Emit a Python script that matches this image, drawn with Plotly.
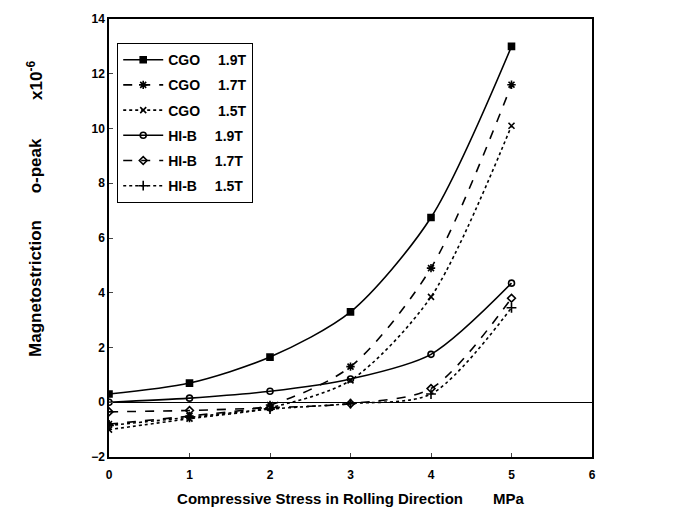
import plotly.graph_objects as go

stress = [0, 1, 2, 3, 4, 5]
cgo_19 = [0.3, 0.7, 1.65, 3.3, 6.75, 13.0]
cgo_17 = [-0.8, -0.5, -0.1, 1.3, 4.9, 11.6]
cgo_15 = [-1.0, -0.6, -0.2, 0.8, 3.85, 10.1]
hib_19 = [0.0, 0.15, 0.4, 0.85, 1.75, 4.35]
hib_17 = [-0.35, -0.3, -0.2, -0.05, 0.5, 3.8]
hib_15 = [-0.85, -0.55, -0.25, -0.05, 0.3, 3.45]

series = [
    ("CGO\u2003 1.9T", cgo_19, "solid", "square", 6),
    ("CGO\u2003 1.7T", cgo_17, "dash", "asterisk-open", 7),
    ("CGO\u2003 1.5T", cgo_15, "dot", "x-thin-open", 6),
    ("HI-B\u2003 1.9T", hib_19, "solid", "circle-open", 6),
    ("HI-B\u2003 1.7T", hib_17, "dash", "diamond-open", 6),
    ("HI-B\u2003 1.5T", hib_15, "dot", "cross-thin-open", 7),
]

fig = go.Figure()
for i, (name, ys, dash, sym, size) in enumerate(series):
    fig.add_trace(go.Scatter(
        x=stress, y=ys, name=name, mode="lines+markers", legendgroup=f"g{i}",
        line=dict(color="black", width=1.6, dash=dash, shape="spline", smoothing=0.8),
        marker=dict(symbol=sym, size=size, color="black",
                    line=dict(color="black", width=1.6)),
    ))

font_family = "Liberation Sans, Arial, sans-serif"
ytitle_parts = [("Magnetostriction", 0.385), ("o-peak", 0.665), ("x10<sup>-6</sup>", 0.86)]
for txt, ypos in ytitle_parts:
    fig.add_annotation(
        text=txt, xref="paper", yref="paper", x=-0.152, y=ypos,
        xanchor="center", yanchor="middle", textangle=-90, showarrow=False,
        font=dict(size=17, family=font_family, weight="bold"),
    )
fig.update_layout(
    width=675, height=519,
    margin=dict(l=109, r=83, t=15, b=62),
    paper_bgcolor="white", plot_bgcolor="white",
    font=dict(family=font_family, color="black", size=13),
    showlegend=True,
    legend=dict(x=0.017, y=0.945, xanchor="left", yanchor="top",
                bordercolor="black", borderwidth=1, bgcolor="white",
                font=dict(size=14, family=font_family, weight="bold"),
                tracegroupgap=4, itemwidth=40),
    xaxis=dict(range=[0, 6], dtick=1, tick0=0, ticks="inside", ticklen=4,
               showgrid=False, zeroline=False, showline=True, linecolor="black",
               linewidth=1.5, mirror=True, ticklabelstandoff=6,
               tickfont=dict(size=12, family=font_family, weight="bold"),
               title=dict(text="Compressive Stress in Rolling Direction\u2003\u2003MPa",
                          font=dict(size=15, weight="bold"), standoff=12)),
    yaxis=dict(range=[-2, 14], dtick=2, ticks="inside", ticklen=4,
               showgrid=False, zeroline=True, zerolinecolor="black", zerolinewidth=1,
               showline=True, linecolor="black", linewidth=1.5, mirror=True,
               tickfont=dict(size=12, family=font_family, weight="bold")),
)

fig.write_html("out.html")
